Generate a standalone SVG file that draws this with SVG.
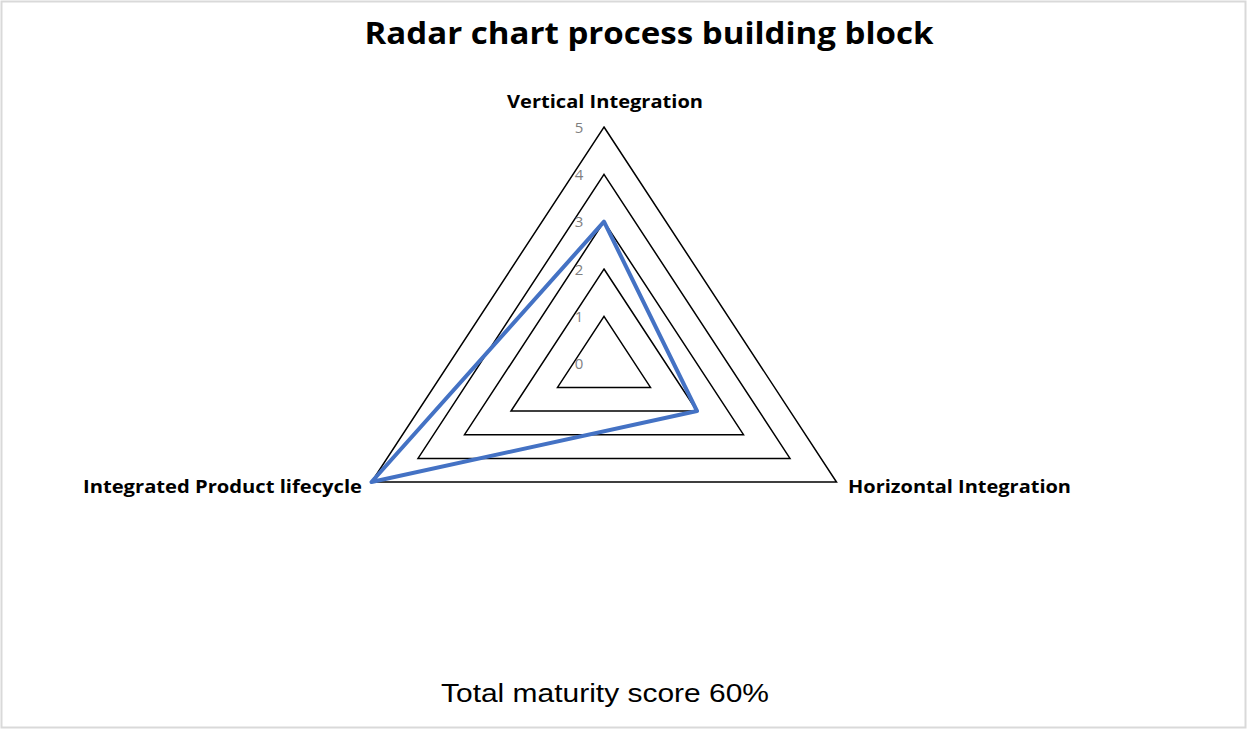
<svg xmlns="http://www.w3.org/2000/svg" width="1247" height="729" viewBox="0 0 1247 729">
<style>
.bg{fill:#fff;stroke:#d9d9d9;stroke-width:2}
.grid{fill:none;stroke:#000;stroke-width:1.5;stroke-linejoin:miter}
.series{fill:none;stroke:#4472c4;stroke-width:4;stroke-linejoin:round}
.title{font-family:"Open Sans","Liberation Sans",sans-serif;font-weight:bold;font-size:30px;fill:#000}
.axis{font-family:"Open Sans","Liberation Sans",sans-serif;font-weight:bold;font-size:17px;fill:#000}
.tick{font-family:"Open Sans","Liberation Sans",sans-serif;font-size:15px;fill:#7f7f7f}
.foot{font-family:"Liberation Sans",Arial,sans-serif;font-size:25px;fill:#000}
</style>
<rect class="bg" x="1.5" y="1.5" width="1244" height="726"/>
<g id="title"><text class="title" x="649" y="44" text-anchor="middle" textLength="569" lengthAdjust="spacingAndGlyphs">Radar chart process building block</text></g>
<g id="grid">
<polygon class="grid" points="604,316.4 650.5,387.4 557.5,387.4"/>
<polygon class="grid" points="604,269 697,411 511,411"/>
<polygon class="grid" points="604,221.7 743.5,434.7 464.5,434.7"/>
<polygon class="grid" points="604,174.4 790,458.4 418,458.4"/>
<polygon class="grid" points="604,127 836.5,482 371.5,482"/>
</g>
<g id="ticks">
<text class="tick" x="579" y="369" text-anchor="middle">0</text>
<text class="tick" x="579" y="322" text-anchor="middle">1</text>
<text class="tick" x="579" y="275" text-anchor="middle">2</text>
<text class="tick" x="579" y="227" text-anchor="middle">3</text>
<text class="tick" x="579" y="180" text-anchor="middle">4</text>
<text class="tick" x="579" y="133" text-anchor="middle">5</text>
</g>
<g id="connectors">
<polygon id="series" class="series" points="604,221.7 697,411 371.5,482"/>
</g>
<g id="node-vertical"><text class="axis" x="605" y="108" text-anchor="middle" textLength="196" lengthAdjust="spacingAndGlyphs">Vertical Integration</text></g>
<g id="node-horizontal"><text class="axis" x="848" y="493" textLength="223" lengthAdjust="spacingAndGlyphs">Horizontal Integration</text></g>
<g id="node-lifecycle"><text class="axis" x="362" y="493" text-anchor="end" textLength="279" lengthAdjust="spacingAndGlyphs">Integrated Product lifecycle</text></g>
<g id="footer"><text class="foot" x="605" y="702" text-anchor="middle" textLength="328" lengthAdjust="spacingAndGlyphs">Total maturity score 60%</text></g>
</svg>
